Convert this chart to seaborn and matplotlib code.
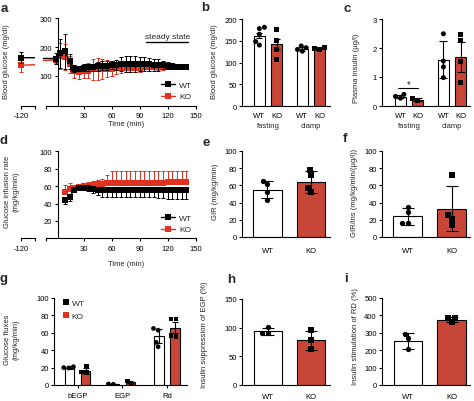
import numpy as np
import pandas as pd
import matplotlib
matplotlib.use('Agg')
import matplotlib.pyplot as plt
import matplotlib.transforms as mtransforms
from matplotlib.lines import Line2D
from matplotlib.patches import Patch
import seaborn as sns
import warnings
warnings.filterwarnings('ignore')

# ---------------- data ----------------
GENOS = ['WT', 'KO']

# panel a : blood glucose time course
a_time_pre = [-120]
a_wt_pre = [163]
a_wt_pre_err = [20]
a_ko_pre = [137]
a_ko_pre_err = [25]
a_time = [0, 5, 10, 15, 20, 25, 30, 35, 40, 45, 50, 55, 60, 65, 70, 75, 80, 85, 90, 95,
          100, 105, 110, 115, 120, 125, 130, 135, 140]
a_wt = [160, 178, 185, 150, 125, 125, 128, 130, 130, 133, 135, 135, 137, 137, 140, 142, 142,
        142, 140, 140, 140, 138, 138, 137, 135, 133, 132, 132, 132]
a_wt_err = [20, 50, 60, 25, 12, 10, 12, 12, 12, 15, 15, 15, 15, 18, 25, 28, 28, 28, 25, 25,
            22, 22, 20, 15, 12, 10, 8, 6, 5]
a_ko = [155, 170, 165, 140, 115, 112, 115, 118, 122, 125, 125, 125, 125, 126, 127, 127, 128,
        128, 128, 129, 129, 130, 130, 130, 130, 130, 130, 130, 130]
a_ko_err = [10, 45, 45, 30, 22, 22, 22, 25, 35, 38, 35, 30, 25, 20, 18, 15, 15, 15, 15, 12,
            12, 12, 10, 10, 8, 8, 6, 6, 5]

# panel d : glucose infusion rate time course
d_time = [10, 15, 20, 25, 30, 35, 40, 45, 50, 55, 60, 65, 70, 75, 80, 85, 90, 95, 100, 105,
          110, 115, 120, 125, 130, 135, 140]
d_wt = [44, 48, 56, 58, 58, 58, 57, 56, 55, 55, 55, 55, 55, 55, 55, 55, 55, 55, 55, 55,
        55, 55, 55, 55, 55, 55, 55]
d_wt_err = [4, 5, 3, 3, 3, 4, 5, 6, 7, 7, 7, 7, 7, 7, 7, 7, 7, 7, 7, 8, 9, 9, 10, 10, 10, 10, 10]
d_ko = [53, 57, 58, 59, 60, 60, 61, 62, 62, 63, 64, 64, 64, 64, 64, 64, 64, 64, 64, 64,
        64, 64, 65, 65, 65, 65, 65]
d_ko_err = [8, 6, 3, 3, 4, 5, 5, 5, 6, 10, 13, 13, 13, 13, 13, 13, 13, 13, 13, 13,
            13, 13, 12, 12, 12, 12, 12]

# panel b : blood glucose fasting / clamp
b_conds = ['fasting', 'clamp']
b_wt_mean = [162, 131]
b_wt_err = [6, 4]
b_ko_mean = [142, 133]
b_ko_err = [11, 2]
b_wt_pts = [[178, 181, 165, 148, 140], [138, 134, 130, 126]]
b_ko_pts = [[175, 150, 131, 108], [135, 133, 131]]

# panel c : plasma insulin
c_conds = ['fasting', 'clamp']
c_wt_mean = [0.32, 1.60]
c_wt_err = [0.06, 0.64]
c_ko_mean = [0.22, 1.70]
c_ko_err = [0.04, 0.52]
c_wt_pts = [[0.40, 0.33, 0.27], [2.49, 1.55, 1.35, 0.98]]
c_ko_pts = [[0.25, 0.20], [2.47, 2.25, 1.55, 0.80]]

# panel e : GIR
e_mean = [55, 64]
e_err = [10, 13]
e_wt_pts = [65, 62, 52, 43]
e_ko_pts = [78, 72, 57, 52]

# panel f : GIR / insulin
f_mean = [24, 33]
f_err = [9.7, 26.5]
f_wt_pts = [28.7, 35, 16, 16]
f_ko_pts = [72, 25.6, 21, 14]

# panel g : glucose fluxes
g_cats = ['bEGP', 'EGP', 'Rd']
g_wt_mean = [20, 1, 56]
g_wt_err = [1.5, 0.5, 8]
g_ko_mean = [16.5, 3.5, 66]
g_ko_err = [3.5, 1.5, 6.5]
g_wt_pts = [[21, 20, 19.5], [1.2, 0.8], [65, 63, 49, 44]]
g_ko_pts = [[21, 14, 15], [1, 4.5], [76, 76, 57, 56]]

# panel h : insulin suppression of EGP
h_mean = [94, 78]
h_err = [6, 16.5]
h_wt_pts = [101, 91, 91]
h_ko_pts = [96, 78, 62]

# panel i : insulin stimulation of RD
i_mean = [255, 375]
i_err = [46, 13]
i_wt_pts = [270, 295, 205]
i_ko_pts = [360, 385, 385]

# ---------------- style ----------------
sns.set_theme(style='ticks')
plt.rcParams['font.family'] = ['Liberation Sans', 'DejaVu Sans']
RED = '#E03220'
FS = 5.5
W, H = 474, 402
fig = plt.figure(figsize=(W / 100, H / 100), dpi=100)


def add_ax(x0, x1, ytop, ybot):
    return fig.add_axes([x0 / W, 1 - ybot / H, (x1 - x0) / W, (ybot - ytop) / H])


def base_style(ax):
    for s in ['top', 'right']:
        ax.spines[s].set_visible(False)
    for s in ['left', 'bottom']:
        ax.spines[s].set_linewidth(0.8)
        ax.spines[s].set_color('black')
    ax.tick_params(axis='both', which='both', direction='out', length=2.2, width=0.8,
                   labelsize=FS, pad=1.5, colors='black')
    ax.patch.set_alpha(0)


def ftext(x, y, s, **kw):
    fig.text(x / W, 1 - y / H, s, **kw)


def time_axes(ytop, ybot, ylim, yticks):
    main = add_ax(42.6, 195.7, ytop, ybot)
    left = add_ax(16.8, 35, ytop, ybot)
    for ax in (main, left):
        base_style(ax)
        ax.set_ylim(*ylim)
    main.set_xlim(-14, 150)
    left.set_xlim(-123, -110)
    main.spines['left'].set_position(('data', 2))
    main.spines['bottom'].set_bounds(-10, 150)
    main.set_xticks([-10, 30, 60, 90, 120, 150], ['', '30', '60', '90', '120', '150'])
    main.set_yticks(yticks)
    left.spines['left'].set_visible(False)
    left.set_yticks([])
    left.spines['bottom'].set_bounds(-120, -110)
    left.set_xticks([-120, -110], ['-120', ''])
    main.tick_params(axis='x', pad=2.5)
    left.tick_params(axis='x', pad=2.5)
    return main, left


def trace(axes, t, v, elo, ehi, color, z):
    for ax in axes:
        ax.errorbar(t, v, yerr=[elo, ehi], fmt='none', ecolor=color, elinewidth=0.7,
                    capsize=1.4, capthick=0.7, zorder=z)
        sns.lineplot(x=t, y=v, color=color, marker='s', markersize=4, markeredgewidth=0,
                     linewidth=1, errorbar=None, ax=ax, zorder=z + 0.5)
        ax.set_xlabel('')
        ax.set_ylabel('')


def time_legend(ax, ytop):
    hs = [Line2D([0], [0], color='black', marker='s', markersize=4, markeredgewidth=0, lw=1),
          Line2D([0], [0], color=RED, marker='s', markersize=4, markeredgewidth=0, lw=1)]
    ax.legend(hs, GENOS, loc='upper left', bbox_to_anchor=(161 / W, 1 - ytop / H),
              bbox_transform=fig.transFigure, frameon=False, fontsize=6, handlelength=1.7,
              handletextpad=0.5, labelspacing=0.45, borderpad=0, borderaxespad=0)


# ---------------- panel a ----------------
axa, axa0 = time_axes(19.3, 106.7, (-4, 300), [100, 200, 300])
ta = a_time_pre + a_time
trace([axa, axa0], ta, a_ko_pre + a_ko, a_ko_pre_err + a_ko_err, a_ko_pre_err + a_ko_err, RED, 2)
trace([axa, axa0], ta, a_wt_pre + a_wt, a_wt_pre_err + a_wt_err, a_wt_pre_err + a_wt_err, 'black', 4)
axa.plot([97, 142], [218, 218], color='black', lw=1)
axa.text(119.5, 226, 'steady state', ha='center', va='bottom', fontsize=6)
time_legend(axa, 82)
ftext(126, 125, 'Time (min)', ha='center', va='center', fontsize=FS)
ftext(7, 62, 'Blood glucose (mg/dl)', rotation=90, ha='center', va='center', fontsize=FS)

# ---------------- panel d ----------------
axd, axd0 = time_axes(152.3, 239.3, (0, 100), [20, 40, 60, 80, 100])
zeros_d = [0] * len(d_time)
trace([axd], d_time, d_ko, zeros_d, d_ko_err, RED, 2)
trace([axd], d_time, d_wt, d_wt_err, zeros_d, 'black', 4)
time_legend(axd, 215)
ftext(126, 264, 'Time (min)', ha='center', va='center', fontsize=FS)
ftext(12, 192, 'Glucose infusion rate\n(mg/kg/min)', rotation=90, ha='center', va='center',
      fontsize=FS, linespacing=1.35)


# ---------------- bar helpers ----------------
def add_errbars(ax, means, errs, capsize):
    bars = sorted(ax.patches, key=lambda p: p.get_x())
    xs = [p.get_x() + p.get_width() / 2 for p in bars]
    ax.errorbar(xs, means, yerr=errs, fmt='none', ecolor='black', elinewidth=0.8,
                capsize=capsize, capthick=0.8, zorder=4)
    return xs


def grouped(ax, conds, wt_mean, wt_err, ko_mean, ko_err, wt_pts, ko_pts, width, gap,
            capsize, ptsize):
    df = pd.DataFrame({'cond': conds * 2, 'geno': ['WT'] * len(conds) + ['KO'] * len(conds),
                       'val': wt_mean + ko_mean})
    sns.barplot(data=df, x='cond', y='val', hue='geno', order=conds, hue_order=GENOS,
                palette={'WT': 'white', 'KO': RED}, edgecolor='black', linewidth=0.8,
                width=width, gap=gap, errorbar=None, legend=False, ax=ax, zorder=1)
    means, errs = [], []
    for i in range(len(conds)):
        means += [wt_mean[i], ko_mean[i]]
        errs += [wt_err[i], ko_err[i]]
    xs = add_errbars(ax, means, errs, capsize)
    for geno, pts, mk in (('WT', wt_pts, 'o'), ('KO', ko_pts, 's')):
        rows = [(c, geno, v) for c, vals in zip(conds, pts) for v in vals]
        dp = pd.DataFrame(rows, columns=['cond', 'geno', 'val'])
        sns.swarmplot(data=dp, x='cond', y='val', hue='geno', order=conds, hue_order=GENOS,
                      dodge=True, palette={'WT': 'black', 'KO': 'black'}, marker=mk,
                      size=ptsize, legend=False, ax=ax, zorder=3)
    ax.set_xlabel('')
    ax.set_ylabel('')
    return xs


def simple(ax, means, errs, wt_pts, ko_pts, width, capsize, ptsize, pad):
    sns.barplot(x=GENOS, y=means, hue=GENOS, order=GENOS, hue_order=GENOS,
                palette={'WT': 'white', 'KO': RED}, edgecolor='black', linewidth=0.8,
                width=width, errorbar=None, legend=False, ax=ax, zorder=1)
    xs = add_errbars(ax, means, errs, capsize)
    sns.swarmplot(x=['WT'] * len(wt_pts), y=wt_pts, order=GENOS, color='black', marker='o',
                  size=ptsize, ax=ax, zorder=3)
    sns.swarmplot(x=['KO'] * len(ko_pts), y=ko_pts, order=GENOS, color='black', marker='s',
                  size=ptsize, ax=ax, zorder=3)
    ax.set_xticks(xs, GENOS)
    ax.tick_params(axis='x', length=0, pad=pad)
    ax.set_xlabel('')
    ax.set_ylabel('')


def group_labels(ax, conds, y):
    tr = mtransforms.blended_transform_factory(ax.transData, fig.transFigure)
    for i, c in enumerate(conds):
        ax.text(i, 1 - y / H, c, transform=tr, ha='center', va='center', fontsize=FS)


# ---------------- panel b ----------------
axb = add_ax(242.2, 329.9, 20, 107)
base_style(axb)
xs = grouped(axb, b_conds, b_wt_mean, b_wt_err, b_ko_mean, b_ko_err, b_wt_pts, b_ko_pts,
             0.8, 0.36, 2.5, 3.6)
axb.set_xlim(-0.6, 1.44)
axb.set_ylim(0, 200)
axb.set_yticks([0, 50, 100, 150, 200])
axb.set_xticks(xs, ['WT', 'KO'] * 2)
axb.tick_params(axis='x', length=0, pad=4.5)
group_labels(axb, b_conds, 126.5)
ftext(215, 62, 'Blood glucose (mg/dl)', rotation=90, ha='center', va='center', fontsize=FS)

# ---------------- panel c ----------------
axc = add_ax(382, 470.1, 20, 107)
base_style(axc)
xs = grouped(axc, c_conds, c_wt_mean, c_wt_err, c_ko_mean, c_ko_err, c_wt_pts, c_ko_pts,
             0.8, 0.36, 3.0, 3.6)
axc.set_xlim(-0.628, 1.42)
axc.set_ylim(0, 3)
axc.set_yticks([0, 1, 2, 3])
axc.set_xticks(xs, ['WT', 'KO'] * 2)
axc.tick_params(axis='x', length=0, pad=4.5)
group_labels(axc, c_conds, 126.5)
axc.plot([xs[0] - 0.05, xs[1]], [0.62, 0.62], color='black', lw=0.8)
axc.text((xs[0] + xs[1]) / 2, 0.6, '*', ha='center', va='bottom', fontsize=7)
ftext(356, 68, 'Plasma insulin (µg/l)', rotation=90, ha='center', va='center', fontsize=FS)

# ---------------- panel e ----------------
axe = add_ax(242, 330.1, 152, 238)
base_style(axe)
simple(axe, e_mean, e_err, e_wt_pts, e_ko_pts, 0.655, 4.5, 3.8, 7.5)
axe.set_xlim(-0.586, 1.44)
axe.set_ylim(0, 100)
axe.set_yticks([0, 20, 40, 60, 80, 100])
ftext(215.5, 192, 'GIR (mg/kg/min)', rotation=90, ha='center', va='center', fontsize=FS)

# ---------------- panel f ----------------
axf = add_ax(382, 470, 152, 238)
base_style(axf)
simple(axf, f_mean, f_err, f_wt_pts, f_ko_pts, 0.66, 4.5, 3.8, 7.5)
axf.set_xlim(-0.58, 1.42)
axf.set_ylim(0, 100)
axf.set_yticks([0, 20, 40, 60, 80, 100])
ftext(354.5, 193, 'GIR/ins (mg/kg/min/(µg/l))', rotation=90, ha='center', va='center', fontsize=FS)

# ---------------- panel g ----------------
axg = add_ax(54, 186.7, 299, 386)
base_style(axg)
xs = grouped(axg, g_cats, g_wt_mean, g_wt_err, g_ko_mean, g_ko_err, g_wt_pts, g_ko_pts,
             0.72, 0.41, 2.2, 3.4)
axg.set_xlim(-0.528, 2.44)
axg.set_ylim(0, 100)
axg.set_yticks([0, 20, 40, 60, 80, 100])
axg.set_xticks(range(len(g_cats)), g_cats)
axg.tick_params(axis='x', pad=3)
hs = [Patch(facecolor='black', edgecolor='none'), Patch(facecolor=RED, edgecolor='none')]
axg.legend(hs, GENOS, loc='upper left', bbox_to_anchor=(62.5 / W, 1 - 300 / H),
           bbox_transform=fig.transFigure, frameon=False, fontsize=6, handlelength=0.75,
           handleheight=0.75, handletextpad=0.35, labelspacing=0.6, borderpad=0,
           borderaxespad=0)
ftext(12, 340, 'Glucose fluxes\n(mg/kg/min)', rotation=90, ha='center', va='center',
      fontsize=FS, linespacing=1.35)

# ---------------- panel h ----------------
axh = add_ax(242, 330, 300, 386)
base_style(axh)
simple(axh, h_mean, h_err, h_wt_pts, h_ko_pts, 0.65, 4.5, 3.8, 6)
axh.set_xlim(-0.605, 1.44)
axh.set_ylim(0, 150)
axh.set_yticks([0, 50, 100, 150])
ftext(205, 335, 'Insulin suppression of EGP (%)', rotation=90, ha='center', va='center',
      fontsize=FS)

# ---------------- panel i ----------------
axi = add_ax(382, 470, 299, 386)
base_style(axi)
simple(axi, i_mean, i_err, i_wt_pts, i_ko_pts, 0.655, 4.5, 3.8, 6)
axi.set_xlim(-0.598, 1.425)
axi.set_ylim(0, 500)
axi.set_yticks([0, 100, 200, 300, 400, 500])
ftext(355.5, 337, 'Insulin stimulation of RD (%)', rotation=90, ha='center', va='center',
      fontsize=FS)

# ---------------- panel letters ----------------
for s, x, y in [('a', 4, 9), ('b', 205, 8), ('c', 347, 9), ('d', 3, 141), ('e', 206, 143),
                ('f', 345, 139), ('g', 3, 279), ('h', 231, 280), ('i', 346, 279)]:
    ftext(x, y, s, fontsize=9.5, fontweight='bold', ha='center', va='center')

fig.savefig('out.png', dpi=100)
